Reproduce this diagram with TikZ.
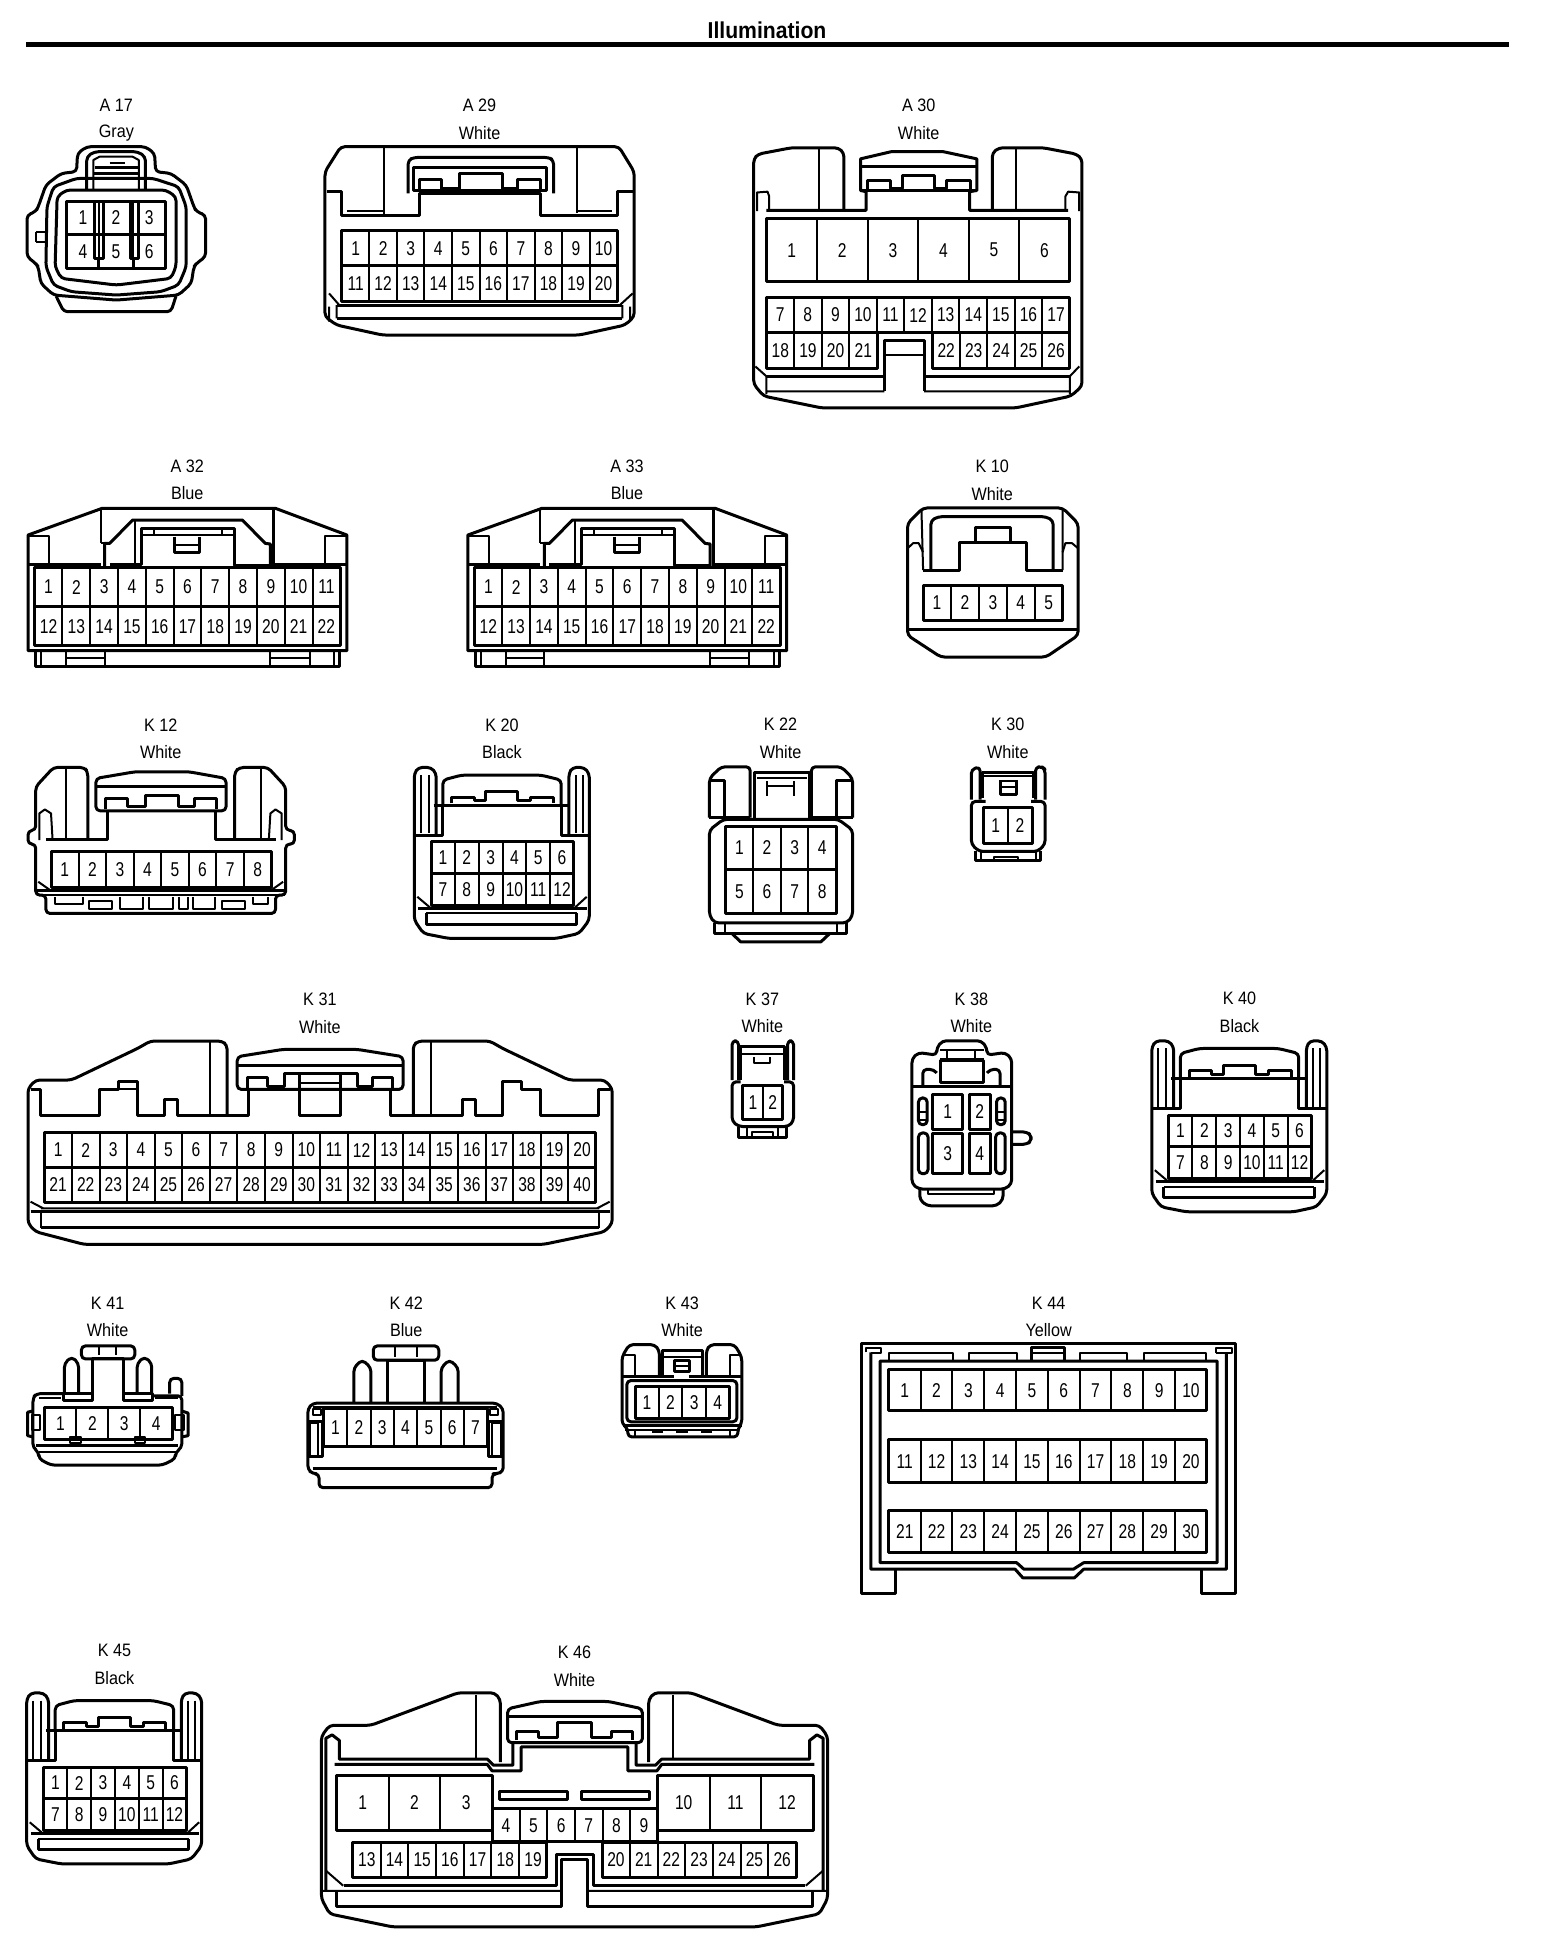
\documentclass[tikz,border=0pt]{standalone}
\usepackage{fontspec}
\setmainfont{Liberation Sans}
\newfontfamily\pinfont[FakeStretch=0.78]{Liberation Sans}
\newfontfamily\capfont[FakeStretch=0.9]{Liberation Sans}
\newfontfamily\titlefont[FakeStretch=0.92]{Liberation Sans}
\tikzset{
	shell/.style={line width=1.5pt,line join=round},
	hull/.style={shell,rounded corners=2pt},
	hair/.style={line width=1pt,line join=round},
	pinnum/.style={inner sep=0pt,font=\pinfont\fontsize{10pt}{10pt}\selectfont},
	captext/.style={inner sep=0pt,font=\capfont\fontsize{9pt}{9pt}\selectfont},
	framea/.style={x=0.2551pt,y=-0.1667pt},
	frameb/.style={shift={(700,60)},x=0.2768pt,y=-0.1977pt},
	framec/.style={shift={(0,440)},x=0.2551pt,y=-0.1667pt},
	framed/.style={shift={(680,680)},x=0.2168pt,y=-0.1786pt},
	framee/.style={shift={(0,960)},x=0.2551pt,y=-0.1667pt},
	framef/.style={shift={(0,1270)},x=0.2424pt,y=-0.2168pt},
	frameg/.style={shift={(760,1270)},x=0.2577pt,y=-0.2168pt},
}
\newcommand{\pinrow}[7]{%
	\draw[shell] (#2,#4) rectangle (#3,#5);
	\foreach \n in {#6,...,#7}{%
		\pgfmathsetmacro{\xc}{#2+(#3-#2)/(#7-#6+1)*(\n-#6+0.5)}
		\pgfmathsetmacro{\xr}{#2+(#3-#2)/(#7-#6+1)*(\n-#6+1)}
		\node[pinnum] (#1-\n) at (\xc,{(#4+#5)/2}) {\n};
		\ifnum\n<#7 \draw[hair] (\xr,#4)--(\xr,#5);\fi
	}%
}
\newcommand{\connlabel}[6]{%
	\node[captext] (#1-id) at (#4,#5) {#2};
	\node[captext] (#1-col) at (#4,#6) {#3};
}
\begin{document}
\begin{tikzpicture}[x=0.5pt,y=-0.5pt]
	\fill[white] (0,0) rectangle (1568,1950);
	\useasboundingbox (0,0) rectangle (1568,1950);
	\node[inner sep=0pt,font=\titlefont\bfseries\fontsize{11.5pt}{11.5pt}\selectfont] (title) at (767,30) {Illumination};
	\coordinate (ruleL) at (26,44);
	\coordinate (ruleR) at (1509,44);
	\draw[line width=2.5pt] (ruleL)--(ruleR);

	\begin{scope}[framea]
		\connlabel{A17}{A 17}{Gray}{228}{315}{400}
		\draw[hull] (150,515)--(152,460)--(170,440)--(285,440)--(303,460)--(305,515)--(335,520)--(365,555)--(380,620)--(385,635)--(403,645)--(403,770)--(385,790)--(380,800)--(375,850)--(350,885)--(228,900)--(105,885)--(80,850)--(75,800)--(70,790)--(53,770)--(53,645)--(70,635)--(75,620)--(90,555)--(120,520)--cycle;
		\draw[hull] (150,535)--(105,560)--(92,620)--(90,800)--(105,855)--(140,875)--(228,885)--(315,875)--(350,855)--(365,800)--(365,620)--(350,560)--(300,535)--cycle;
		\draw[hull] (130,570)--(112,590)--(108,800)--(120,835)--(228,855)--(335,835)--(345,800)--(345,590)--(325,570)--cycle;
		\pinrow{A17}{130}{325}{603}{703}{1}{3}
		\pinrow{A17}{130}{325}{703}{805}{4}{6}
		\draw[shell] (185,603)--(185,775)--(203,775)--(203,603);
		\draw[shell] (255,603)--(255,775)--(272,775)--(272,603);
		\draw[hair] (193,775)--(193,805) (263,775)--(263,805);
		\draw[hull] (170,570)--(170,470)--(185,455)--(270,455)--(285,470)--(285,570);
		\draw[hair] (183,570)--(183,480)--(195,470)--(260,470)--(272,480)--(272,570);
		\draw[shell] (185,520)--(272,520) (187,503)--(272,503);
		\draw[hair] (215,490)--(245,490);
		\draw[hull] (110,888)--(125,935)--(335,935)--(345,888);
		\draw[hair] (70,695)--(90,695) (70,725)--(90,725) (70,695)--(70,725);

		\connlabel{A29}{A 29}{White}{940}{315}{400}
		\draw[hull] (668,440)--(1213,440)--(1243,515)--(1243,950)--(1225,975)--(1135,1005)--(750,1005)--(660,975)--(637,950)--(637,515)--cycle;
		\draw[shell] (640,575)--(670,575)--(670,645)--(822,645)--(822,580)--(1060,580)--(1060,645)--(1210,645)--(1210,575)--(1243,575);
		\draw[hair] (752,440)--(752,645) (1130,445)--(1130,640) (680,632)--(750,632) (1130,632)--(1200,632);
		\draw[hull] (800,580)--(800,480)--(812,472)--(1075,472)--(1085,480)--(1085,580);
		\draw[shell] (810,572) rectangle (1072,503);
		\draw[shell] (822,572)--(822,538)--(865,538)--(865,572) (900,572)--(900,520)--(985,520)--(985,572) (1015,572)--(1015,538)--(1060,538)--(1060,572);
		\draw[hair] (865,563)--(900,563) (985,563)--(1015,563);
		\pinrow{A29}{670}{1210}{692}{797}{1}{10}
		\pinrow{A29}{670}{1210}{797}{903}{11}{20}
		\draw[shell] (660,915)--(1220,915) (660,955)--(1220,955);
		\draw[hair] (645,880)--(665,915) (1240,880)--(1215,915) (645,920)--(645,965) (660,915)--(660,955) (1220,915)--(1220,955) (1235,920)--(1235,965);
	\end{scope}

	\begin{scope}[frameb]
		\connlabel{A30}{A 30}{White}{395}{115}{185}
		\draw[hull] (528,380)--(528,235)--(540,222)--(620,222)--(680,238)--(690,250)--(690,825)--(670,850)--(570,880)--(220,880)--(115,850)--(97,820)--(97,250)--(105,238)--(165,222)--(250,222)--(260,235)--(260,380);
		\draw[shell] (120,380)--(300,380)--(300,333)--(290,330)--(290,250)--(345,232)--(440,232)--(500,250)--(500,330)--(487,333)--(487,380)--(665,380);
		\draw[shell] (290,270)--(500,270) (290,330)--(500,330);
		\draw[shell] (302,330)--(302,305)--(345,305)--(345,325)--(365,325)--(365,292)--(423,292)--(423,325)--(445,325)--(445,305)--(488,305)--(488,330);
		\draw[hair] (215,225)--(215,378) (570,225)--(570,378);
		\draw[hair] (103,382)--(103,335)--(122,333)--(125,345)--(125,380) (685,382)--(685,335)--(665,333)--(660,345)--(660,380);
		\pinrow{A30}{120}{668}{402}{560}{1}{6}
		\pinrow{A30}{120}{668}{600}{690}{7}{17}
		\pinrow{A30}{120}{320}{690}{780}{18}{21}
		\pinrow{A30}{420}{668}{690}{780}{22}{26}
		\draw[shell] (333,838)--(333,710)--(405,710)--(405,838);
		\draw[hair] (333,745)--(405,745);
		\draw[shell] (120,800)--(333,800) (405,800)--(668,800);
		\draw[hair] (120,838)--(333,838) (405,838)--(668,838) (120,800)--(120,845) (668,800)--(668,845) (100,775)--(120,800) (685,775)--(668,800);

		\connlabel{K10}{K 10}{White}{528}{1027}{1097}
		\draw[hull] (403,1133)--(655,1133)--(683,1172)--(683,1455)--(625,1510)--(435,1510)--(375,1455)--(375,1172)--cycle;
		\draw[shell] (375,1440)--(683,1440);
		\draw[hair] (400,1135)--(403,1290) (655,1135)--(655,1290);
		\draw[hull] (417,1290)--(417,1165)--(430,1155)--(625,1155)--(638,1165)--(638,1290);
		\draw[shell] (403,1290)--(468,1290)--(468,1220)--(590,1220)--(590,1290)--(655,1290);
		\draw[shell] (497,1220)--(497,1183)--(560,1183)--(560,1220);
		\draw[hair] (375,1235)--(385,1222)--(395,1222)--(403,1245) (683,1235)--(672,1222)--(660,1222)--(655,1245);
		\pinrow{K10}{403}{655}{1328}{1418}{1}{5}
	\end{scope}

	\foreach \conn/\title/\dx in {A32/A 32/0, A33/A 33/862}{%
		\begin{scope}[framec]
			\begin{scope}[shift={(\dx,0)}]
				\connlabel{\conn}{\title}{Blue}{367}{78}{160}
				\draw[shell] (55,632)--(55,285)--(200,205)--(540,205)--(680,285)--(680,632)--cycle;
				\draw[shell] (70,632)--(70,680)--(665,680)--(665,632);
				\draw[hair] (197,210)--(197,310) (55,288)--(97,288)--(97,370) (680,288)--(637,288)--(637,370);
				\draw[shell] (537,210)--(537,380) (55,372)--(197,372) (537,372)--(680,372);
				\draw[shell] (205,385)--(205,310)--(215,310)--(260,240)--(475,240)--(520,310)--(530,312)--(530,385);
				\draw[hair] (197,310)--(215,310);
				\draw[shell] (215,372)--(277,372)--(277,265)--(460,265)--(460,375)--(530,375);
				\draw[hair] (265,240)--(265,372) (277,285)--(460,285) (302,268)--(302,285) (435,268)--(435,285);
				\draw[shell] (343,290)--(343,338)--(392,338)--(392,290);
				\draw[hair] (343,315)--(392,315);
				\pinrow{\conn}{68}{667}{382}{500}{1}{11}
				\pinrow{\conn}{68}{667}{500}{617}{12}{22}
				\draw[hair] (80,635)--(80,680) (130,635)--(130,680) (205,635)--(205,680) (130,655)--(205,655) (530,635)--(530,680) (607,635)--(607,680) (530,655)--(607,655) (655,635)--(655,680);
			\end{scope}
		\end{scope}
	}

	\begin{scope}[framec]
		\connlabel{K12}{K 12}{White}{315}{855}{937}
		\draw[hull] (172,1197)--(172,995)--(165,982)--(105,982)--(70,1040)--(70,1170)--(55,1172)--(55,1212)--(70,1212)--(70,1365)--(90,1365)--(90,1420)--(540,1420)--(540,1365)--(560,1365)--(560,1212)--(577,1212)--(577,1172)--(560,1170)--(560,1040)--(525,982)--(470,982)--(460,995)--(460,1197);
		\draw[shell] (90,1197)--(210,1197)--(210,1112) (422,1112)--(422,1197)--(540,1197);
		\draw[hull] (188,1112)--(188,1015)--(265,995)--(370,995)--(443,1015)--(443,1112)--cycle;
		\draw[shell] (188,1040)--(443,1040);
		\draw[shell] (207,1108)--(207,1075)--(250,1075)--(250,1100)--(285,1100)--(285,1065)--(350,1065)--(350,1100)--(382,1100)--(382,1075)--(425,1075)--(425,1108);
		\draw[hair] (130,985)--(130,1195) (512,985)--(512,1195);
		\draw[hair] (77,1200)--(77,1120)--(88,1108)--(100,1120)--(103,1197) (552,1200)--(552,1120)--(540,1108)--(530,1120)--(527,1197);
		\pinrow{K12}{100}{532}{1235}{1342}{1}{8}
		\draw[hair] (75,1325)--(100,1352) (555,1325)--(530,1352);
		\draw[shell] (72,1352)--(558,1352);
		\draw[hair] (72,1365)--(558,1365);
		\draw[hair] (108,1370)--(108,1392)--(162,1392)--(162,1370) (235,1370)--(235,1408)--(280,1408)--(280,1370) (293,1370)--(293,1408)--(340,1408)--(340,1370) (350,1370)--(350,1408)--(368,1408)--(368,1370) (378,1370)--(378,1408)--(422,1408)--(422,1370) (495,1370)--(495,1392)--(525,1392)--(525,1370);
		\draw[hair] (175,1382) rectangle (220,1408) (435,1382) rectangle (480,1408);
	\end{scope}

	\foreach \conn/\title/\dx/\dy in {K20/K 20/0/0, K40/K 40/737.5/273.4, K45/K 45/-387.6/925.5}{%
		\begin{scope}[shift={(\dx,\dy)},framec]
			\connlabel{\conn}{\title}{Black}{984}{855}{937}
			\draw[hull] (1115,1185)--(1115,1000)--(1122,982)--(1145,982)--(1155,1000)--(1155,1440)--(1135,1480)--(1090,1495)--(880,1495)--(830,1480)--(812,1440)--(812,1000)--(820,982)--(845,982)--(855,1000)--(855,1185);
			\draw[hair] (825,1005)--(825,1180) (840,1005)--(840,1180) (1128,1005)--(1128,1180) (1142,1005)--(1142,1180);
			\draw[hull] (868,1095)--(868,1020)--(905,1005)--(1060,1005)--(1100,1020)--(1100,1095);
			\draw[shell] (850,1095)--(1115,1095);
			\draw[shell] (885,1090)--(885,1072)--(930,1072)--(930,1082)--(952,1082)--(952,1055)--(1015,1055)--(1015,1082)--(1040,1082)--(1040,1072)--(1085,1072)--(1085,1090);
			\draw[shell] (815,1185)--(868,1185)--(868,1095) (1100,1095)--(1100,1185)--(1155,1185);
			\pinrow{\conn}{845}{1125}{1205}{1300}{1}{6}
			\pinrow{\conn}{845}{1125}{1300}{1395}{7}{12}
			\draw[hair] (818,1370)--(845,1405) (1150,1370)--(1125,1405);
			\draw[shell] (820,1405)--(1150,1405);
			\draw[hair] (835,1420)--(1130,1420);
			\draw[shell] (835,1420)--(835,1452)--(1130,1452)--(1130,1420);
		\end{scope}
	}

	\begin{scope}[framed]
		\connlabel{K22}{K 22}{White}{232}{125}{202}
		\draw[hull] (162,385)--(162,243)--(95,243)--(68,275)--(68,385) (303,385)--(303,243)--(372,243)--(398,275)--(398,385);
		\draw[shell] (68,282)--(103,282)--(103,385) (398,282)--(360,282)--(360,385) (68,385)--(162,385) (303,385)--(398,385);
		\draw[shell] (172,390)--(172,258)--(298,258)--(298,390);
		\draw[hair] (178,275)--(292,275) (200,283)--(200,325) (262,283)--(262,325) (200,298)--(262,298);
		\draw[hull] (100,390)--(365,390)--(398,420)--(398,660)--(385,680)--(80,680)--(68,660)--(68,420)--cycle;
		\pinrow{K22}{105}{360}{410}{530}{1}{4}
		\pinrow{K22}{105}{360}{530}{655}{5}{8}
		\draw[shell] (80,680)--(80,710)--(385,710)--(385,680);
		\draw[hair] (103,680)--(103,710) (362,680)--(362,710);
		\draw[shell] (120,710)--(140,733)--(325,733)--(345,710);

		\connlabel{K30}{K 30}{White}{756}{125}{202}
		\draw[hull] (672,335)--(672,250)--(692,243)--(692,335);
		\draw[hull] (842,335)--(842,250)--(835,243)--(820,243)--(820,335);
		\draw[shell] (698,330)--(698,258)--(815,258)--(815,330);
		\draw[hair] (698,268)--(815,268) (738,282)--(775,282) (738,300)--(775,300);
		\draw[shell] (738,280)--(738,320)--(775,320)--(775,280);
		\draw[hull] (705,340)--(672,340)--(672,460)--(690,480)--(825,480)--(842,460)--(842,340)--(810,340);
		\pinrow{K30}{700}{812}{358}{458}{1}{2}
		\draw[shell] (682,480)--(682,505)--(832,505)--(832,480);
		\draw[hair] (695,482)--(695,505) (820,482)--(820,505) (725,505)--(725,495)--(780,495)--(780,505);

		\connlabel{K37}{K 37}{White}{190}{893}{970}
		\draw[hull] (120,1120)--(120,1010)--(135,1010)--(135,1120);
		\draw[hull] (262,1120)--(262,1010)--(248,1010)--(248,1120);
		\draw[shell] (140,1120)--(140,1025)--(240,1025)--(240,1120);
		\draw[hair] (140,1048)--(240,1048) (170,1055)--(170,1072)--(208,1072)--(208,1055);
		\draw[hull] (140,1125)--(120,1125)--(120,1235)--(135,1250)--(250,1250)--(262,1235)--(262,1125)--(240,1125);
		\pinrow{K37}{145}{237}{1135}{1230}{1}{2}
		\draw[shell] (135,1250)--(135,1282)--(245,1282)--(245,1250);
		\draw[hair] (155,1250)--(155,1282) (225,1250)--(225,1282) (165,1282)--(165,1265)--(215,1265)--(215,1282);

		\connlabel{K38}{K 38}{White}{672}{893}{970}
		\draw[hull] (592,1050)--(592,1030)--(605,1010)--(695,1010)--(708,1030)--(708,1050)--(750,1043)--(765,1060)--(765,1410)--(750,1425)--(550,1425)--(535,1410)--(535,1060)--(550,1043)--cycle;
		\draw[hull] (553,1425)--(553,1455)--(570,1472)--(730,1472)--(745,1455)--(745,1425);
		\draw[hair] (572,1425)--(572,1438)--(725,1438)--(725,1425);
		\draw[shell] (535,1138)--(765,1138);
		\draw[shell] (600,1128)--(600,1065)--(700,1065)--(700,1128)--cycle;
		\draw[hair] (600,1035)--(700,1035) (615,1035)--(615,1060) (680,1035)--(680,1060) (600,1060)--(700,1060);
		\draw[hull] (560,1138)--(560,1090)--(585,1090)--(592,1100) (738,1138)--(738,1090)--(715,1090)--(708,1100);
		\draw[shell] (583,1160) rectangle (652,1258);
		\node[pinnum] (K38-1) at (617.5,1209) {1};
		\draw[shell] (667,1160) rectangle (715,1258);
		\node[pinnum] (K38-2) at (691,1209) {2};
		\draw[shell] (583,1270) rectangle (652,1382);
		\node[pinnum] (K38-3) at (617.5,1326) {3};
		\draw[shell] (667,1270) rectangle (715,1382);
		\node[pinnum] (K38-4) at (691,1326) {4};
		\draw[hull] (550,1170) rectangle (570,1245) (730,1170) rectangle (750,1245) (550,1268) rectangle (572,1382) (728,1268) rectangle (750,1382);
		\draw[hair] (550,1210)--(570,1210) (550,1232)--(570,1232) (730,1210)--(750,1210) (730,1232)--(750,1232);
		\draw[hull] (765,1265)--(800,1265)--(810,1275)--(810,1290)--(800,1300)--(765,1300);
	\end{scope}

	\begin{scope}[framee]
		\connlabel{K31}{K 31}{White}{627}{118}{200}
		\draw[hull] (445,465)--(445,255)--(435,243)--(295,243)--(270,265)--(140,360)--(70,360)--(55,385)--(55,790)--(70,815)--(165,853)--(1065,853)--(1185,815)--(1200,790)--(1200,385)--(1185,360)--(1115,360)--(985,265)--(960,243)--(820,243)--(810,255)--(810,465);
		\draw[shell] (60,388)--(80,388)--(80,465)--(195,465)--(195,388)--(232,388)--(232,365)--(270,365)--(270,465)--(322,465)--(322,418)--(348,418)--(348,465)--(488,465)--(488,385);
		\draw[shell] (1195,388)--(1174,388)--(1174,465)--(1059,465)--(1059,388)--(1022,388)--(1022,365)--(984,365)--(984,465)--(932,465)--(932,418)--(906,418)--(906,465)--(766,465)--(766,385);
		\draw[hair] (232,388)--(270,388) (1022,388)--(1059,388) (412,245)--(412,465) (845,245)--(845,465);
		\draw[hull] (465,388)--(465,290)--(555,268)--(700,268)--(790,290)--(790,388)--cycle;
		\draw[shell] (465,315)--(790,315);
		\draw[shell] (485,385)--(485,352)--(525,352)--(525,378)--(558,378)--(558,340)--(700,340)--(700,378)--(730,378)--(730,352)--(770,352)--(770,385);
		\draw[shell] (588,340)--(588,465)--(668,465)--(668,340);
		\draw[hair] (588,368)--(668,368);
		\pinrow{K31}{87}{1168}{518}{622}{1}{20}
		\pinrow{K31}{87}{1168}{622}{727}{21}{40}
		\draw[hair] (60,725)--(85,745) (1195,725)--(1170,745) (80,745)--(1175,745);
		\draw[shell] (60,755)--(1195,755) (80,803)--(1175,803);
		\draw[hair] (80,755)--(80,803) (1175,755)--(1175,803);
	\end{scope}

	\begin{scope}[framef]
		\connlabel{K41}{K 41}{White}{222}{76}{139}
		\draw[hull] (130,285)--(75,285)--(68,295)--(68,410)--(80,420)--(80,435)--(105,450)--(335,450)--(362,435)--(362,420)--(375,410)--(375,290)--(315,290);
		\draw[shell] (130,285) rectangle (190,300) (255,285) rectangle (315,300);
		\draw[shell] (190,285)--(190,205)--(255,205)--(255,285);
		\draw[hull] (133,285)--(133,215)--(148,200)--(162,215)--(162,285) (283,285)--(283,215)--(298,200)--(313,215)--(313,285);
		\draw[hull] (168,175) rectangle (278,205);
		\draw[hair] (205,175)--(205,195) (240,175)--(240,195);
		\draw[hull] (350,285)--(350,250)--(375,250)--(375,290);
		\draw[hair] (80,295)--(125,295) (320,295)--(368,295);
		\draw[shell] (68,325)--(57,328)--(57,382)--(68,385) (375,325)--(388,330)--(388,382)--(375,385);
		\draw[hair] (65,335) rectangle (82,370) (360,335) rectangle (380,370);
		\pinrow{K41}{92}{355}{318}{392}{1}{4}
		\draw[shell] (75,405)--(368,405);
		\draw[hair] (145,385) rectangle (168,400) (278,385) rectangle (300,400) (80,420)--(362,420);

		\connlabel{K42}{K 42}{Blue}{838}{76}{139}
		\draw[hull] (635,320)--(645,307)--(1025,307)--(1038,320)--(1038,465)--(1025,470)--(1015,470)--(1015,502)--(658,502)--(658,470)--(645,470)--(635,460)--cycle;
		\draw[hair] (645,315)--(1025,315);
		\draw[shell] (645,458)--(1025,458);
		\draw[hull] (770,175) rectangle (905,208);
		\draw[hair] (815,175)--(815,200) (860,175)--(860,200);
		\draw[shell] (800,305)--(800,208)--(875,208)--(875,305);
		\draw[hull] (730,305)--(730,225)--(747,207)--(765,225)--(765,305) (910,305)--(910,225)--(927,207)--(945,225)--(945,305);
		\pinrow{K42}{668}{1005}{320}{408}{1}{7}
		\draw[shell] (635,350)--(665,350)--(665,430)--(635,430) (1038,350)--(1008,350)--(1008,430)--(1038,430);
		\draw[hair] (640,352) rectangle (655,428) (1015,352) rectangle (1033,428) (645,320) rectangle (662,335) (1010,320) rectangle (1028,335);

		\connlabel{K43}{K 43}{White}{1407}{76}{139}
		\draw[hull] (1360,245)--(1360,185)--(1350,172)--(1298,172)--(1283,200)--(1283,355)--(1295,365)--(1295,385)--(1522,385)--(1522,365)--(1530,355)--(1530,200)--(1515,172)--(1465,172)--(1457,185)--(1457,245);
		\draw[hair] (1285,195)--(1310,195)--(1310,245) (1528,195)--(1505,195)--(1505,245);
		\draw[shell] (1367,245)--(1367,185)--(1450,185)--(1450,245);
		\draw[hair] (1367,200)--(1450,200) (1392,222)--(1422,222);
		\draw[shell] (1392,208) rectangle (1422,235) (1285,245)--(1390,245) (1422,245)--(1530,245);
		\draw[hull] (1293,255) rectangle (1520,350);
		\pinrow{K43}{1310}{1505}{268}{342}{1}{4}
		\draw[shell] (1285,358)--(1530,358);
		\draw[hair] (1290,370)--(1522,370) (1310,368)--(1310,385) (1505,368)--(1505,385);
		\draw[shell] (1345,372)--(1368,372) (1395,373)--(1420,373) (1445,372)--(1468,372);

		\connlabel{K46}{K 46}{White}{1185}{882}{945}
		\draw[hull] (1032,1135)--(1032,990)--(1020,975)--(945,975)--(765,1050)--(680,1050)--(663,1075)--(663,1450)--(680,1485)--(810,1515)--(1560,1515)--(1690,1485)--(1707,1450)--(1707,1075)--(1690,1050)--(1605,1050)--(1425,975)--(1350,975)--(1338,990)--(1338,1135);
		\draw[hair] (982,980)--(982,1128) (1388,980)--(1388,1128);
		\draw[shell] (672,1430)--(672,1080)--(685,1072)--(700,1085)--(700,1128)--(1005,1128)--(1018,1142)--(1058,1142)--(1058,1090);
		\draw[shell] (1698,1430)--(1698,1080)--(1685,1072)--(1670,1085)--(1670,1128)--(1365,1128)--(1352,1142)--(1312,1142)--(1312,1090);
		\draw[shell] (690,1140)--(1005,1140)--(1015,1155)--(1075,1155)--(1075,1100)--(1295,1100)--(1295,1155)--(1355,1155)--(1365,1140)--(1680,1140);
		\draw[hull] (1047,1090)--(1047,1012)--(1115,995)--(1255,995)--(1325,1012)--(1325,1090)--cycle;
		\draw[shell] (1047,1030)--(1325,1030);
		\draw[shell] (1065,1085)--(1065,1065)--(1110,1065)--(1110,1078)--(1150,1078)--(1150,1043)--(1220,1043)--(1220,1078)--(1262,1078)--(1262,1065)--(1305,1065)--(1305,1085);
		\pinrow{K46}{695}{1015}{1165}{1293}{1}{3}
		\pinrow{K46}{1357}{1677}{1165}{1293}{10}{12}
		\pinrow{K46}{1015}{1357}{1243}{1318}{4}{9}
		\pinrow{K46}{728}{1128}{1320}{1400}{13}{19}
		\pinrow{K46}{1242}{1642}{1320}{1400}{20}{26}
		\draw[shell] (1030,1202) rectangle (1170,1222) (1200,1202) rectangle (1340,1222);
		\draw[shell] (710,1420)--(1148,1420)--(1148,1348)--(1225,1348)--(1225,1420)--(1660,1420);
		\draw[shell] (695,1435)--(695,1468)--(1158,1468)--(1158,1360)--(1212,1360)--(1212,1468)--(1675,1468)--(1675,1435);
		\draw[hair] (663,1432)--(1158,1432) (1212,1432)--(1707,1432) (672,1385)--(708,1420) (1698,1385)--(1662,1420);
	\end{scope}

	\begin{scope}[frameg]
		\connlabel{K44}{K 44}{Yellow}{560}{76}{139}
		\draw[shell] (263,692)--(263,745)--(197,745)--(197,170)--(922,170)--(922,745)--(857,745)--(857,692);
		\draw[shell] (215,190)--(215,690)--(495,690)--(510,710)--(610,710)--(628,690)--(905,690)--(905,190);
		\draw[hair] (205,190)--(205,180)--(235,180)--(235,192)--(215,192) (885,192)--(885,180)--(915,180)--(915,192)--(885,192);
		\draw[shell] (233,210)--(887,210)--(887,675)--(628,675)--(608,690)--(512,690)--(498,675)--(233,675)--cycle;
		\draw[hair] (250,208)--(250,192)--(375,192)--(375,208) (405,208)--(405,192)--(498,192)--(498,208) (620,208)--(620,192)--(712,192)--(712,208) (745,208)--(745,192)--(865,192)--(865,208) (527,192)--(590,192);
		\draw[shell] (527,208)--(527,178)--(590,178)--(590,208);
		\pinrow{K44}{250}{867}{230}{325}{1}{10}
		\pinrow{K44}{250}{867}{392}{490}{11}{20}
		\pinrow{K44}{250}{867}{555}{652}{21}{30}
	\end{scope}
\end{tikzpicture}
\end{document}
